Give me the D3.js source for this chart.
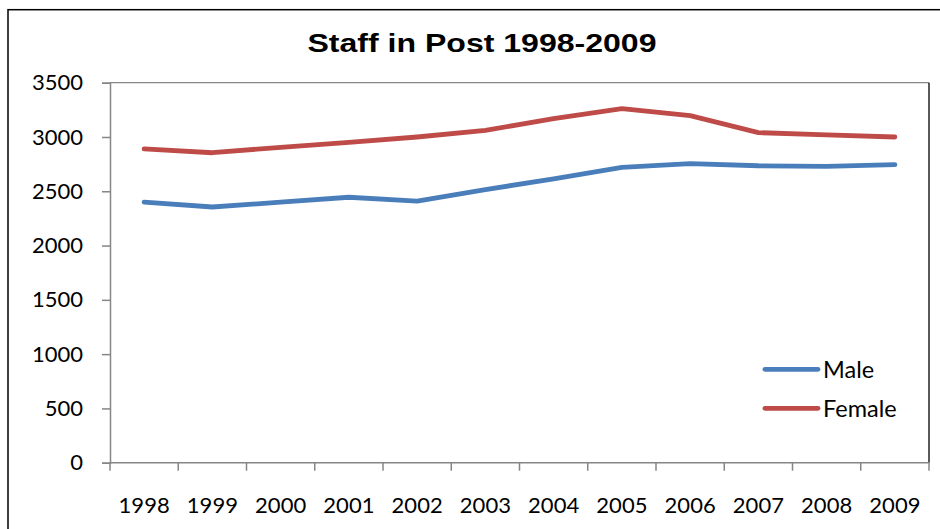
<!DOCTYPE html>
<html>
<head>
<meta charset="utf-8">
<script src="https://cdn.jsdelivr.net/npm/d3@7"></script>
<style>
  html, body { margin: 0; padding: 0; background: #fff; }
  svg { display: block; }
  text { font-family: Lato, "Open Sans", sans-serif; }
</style>
</head>
<body>
<svg id="chart" width="940" height="529"></svg>
<script>
const years = ["1998","1999","2000","2001","2002","2003","2004","2005","2006","2007","2008","2009"];
const male = [2400, 2355, 2400, 2445, 2410, 2515, 2615, 2720, 2755, 2735, 2730, 2745];
const female = [2890, 2855, 2905, 2950, 3000, 3060, 3170, 3262, 3197, 3040, 3020, 3000];
const yTicks = [0, 500, 1000, 1500, 2000, 2500, 3000, 3500];
const seriesNames = ["Male", "Female"];
const seriesColors = ["#4A7EBB", "#BE4B48"];
const chartTitle = "Staff in Post 1998-2009";

const svg = d3.select("#chart");
const plotL = 110, plotR = 929, plotT = 82.7, plotB = 462.7;

const x = d3.scaleBand().domain(years).range([plotL, plotR]).paddingInner(0).paddingOuter(0);
const y = d3.scaleLinear().domain([0, 3500]).range([plotB, plotT]);

// outer chart border
svg.append("rect").attr("x", 8).attr("y", 9.7).attr("width", 940).attr("height", 540)
  .attr("fill", "none").attr("stroke", "#000").attr("stroke-width", 1.5);

// title
svg.append("text").attr("x", 482).attr("y", 52)
  .attr("text-anchor", "middle")
  .style("font-family", "'Liberation Sans', Arial, sans-serif")
  .attr("font-weight", "bold").attr("font-size", 26)
  .attr("textLength", 349).attr("lengthAdjust", "spacingAndGlyphs")
  .text(chartTitle);

// plot area border (top grey, right dark)
svg.append("line").attr("x1", plotL).attr("x2", plotR).attr("y1", plotT).attr("y2", plotT)
  .attr("stroke", "#868686").attr("stroke-width", 1.3);
svg.append("line").attr("x1", plotR).attr("x2", plotR).attr("y1", plotT).attr("y2", plotB)
  .attr("stroke", "#000").attr("stroke-width", 1.3);

// y axis
const yAxis = svg.append("g").attr("transform", `translate(${plotL},0)`)
  .call(d3.axisLeft(y).tickValues(yTicks).tickSize(8).tickPadding(19).tickFormat(d3.format("d")));
yAxis.select(".domain").attr("stroke", "#868686").attr("stroke-width", 1.5);
yAxis.selectAll(".tick line").attr("stroke", "#868686").attr("stroke-width", 1.5);
yAxis.selectAll("text").attr("font-size", 22).attr("fill", "#000")
  .style("font-family", "Lato, 'Open Sans', sans-serif");

// x axis: labels at band centres, ticks at band edges
const xAxis = svg.append("g").attr("transform", `translate(0,${plotB})`)
  .call(d3.axisBottom(x).tickSize(0).tickSizeOuter(0));
xAxis.select(".domain").remove();
xAxis.selectAll("text").attr("y", 50).attr("dy", 0).attr("font-size", 22).attr("fill", "#000")
  .style("font-family", "Lato, 'Open Sans', sans-serif");
const edges = years.map(d => x(d)).concat([x(years[years.length - 1]) + x.bandwidth()]);
svg.append("line").attr("x1", plotL).attr("x2", plotR).attr("y1", plotB).attr("y2", plotB)
  .attr("stroke", "#868686").attr("stroke-width", 1.5);
svg.append("g").selectAll("line").data(edges).join("line")
  .attr("x1", d => d).attr("x2", d => d).attr("y1", plotB).attr("y2", plotB + 8)
  .attr("stroke", "#868686").attr("stroke-width", 1.5);

// lines
const line = d3.line().x((d, i) => x(years[i]) + x.bandwidth() / 2).y(d => y(d));
[male, female].forEach((vals, k) => {
  svg.append("path").datum(vals).attr("d", line)
    .attr("fill", "none").attr("stroke", seriesColors[k]).attr("stroke-width", 4.8)
    .attr("stroke-linejoin", "round").attr("stroke-linecap", "round");
});

// legend
const legend = svg.append("g");
seriesNames.forEach((name, k) => {
  const ly = 369.3 + k * 39;
  legend.append("line").attr("x1", 765).attr("x2", 818).attr("y1", ly).attr("y2", ly)
    .attr("stroke", seriesColors[k]).attr("stroke-width", 4.8).attr("stroke-linecap", "round");
  legend.append("text").attr("x", 823).attr("y", ly).attr("dy", "0.36em")
    .attr("font-size", 23.5).attr("fill", "#000").text(name);
});
</script>
</body>
</html>
